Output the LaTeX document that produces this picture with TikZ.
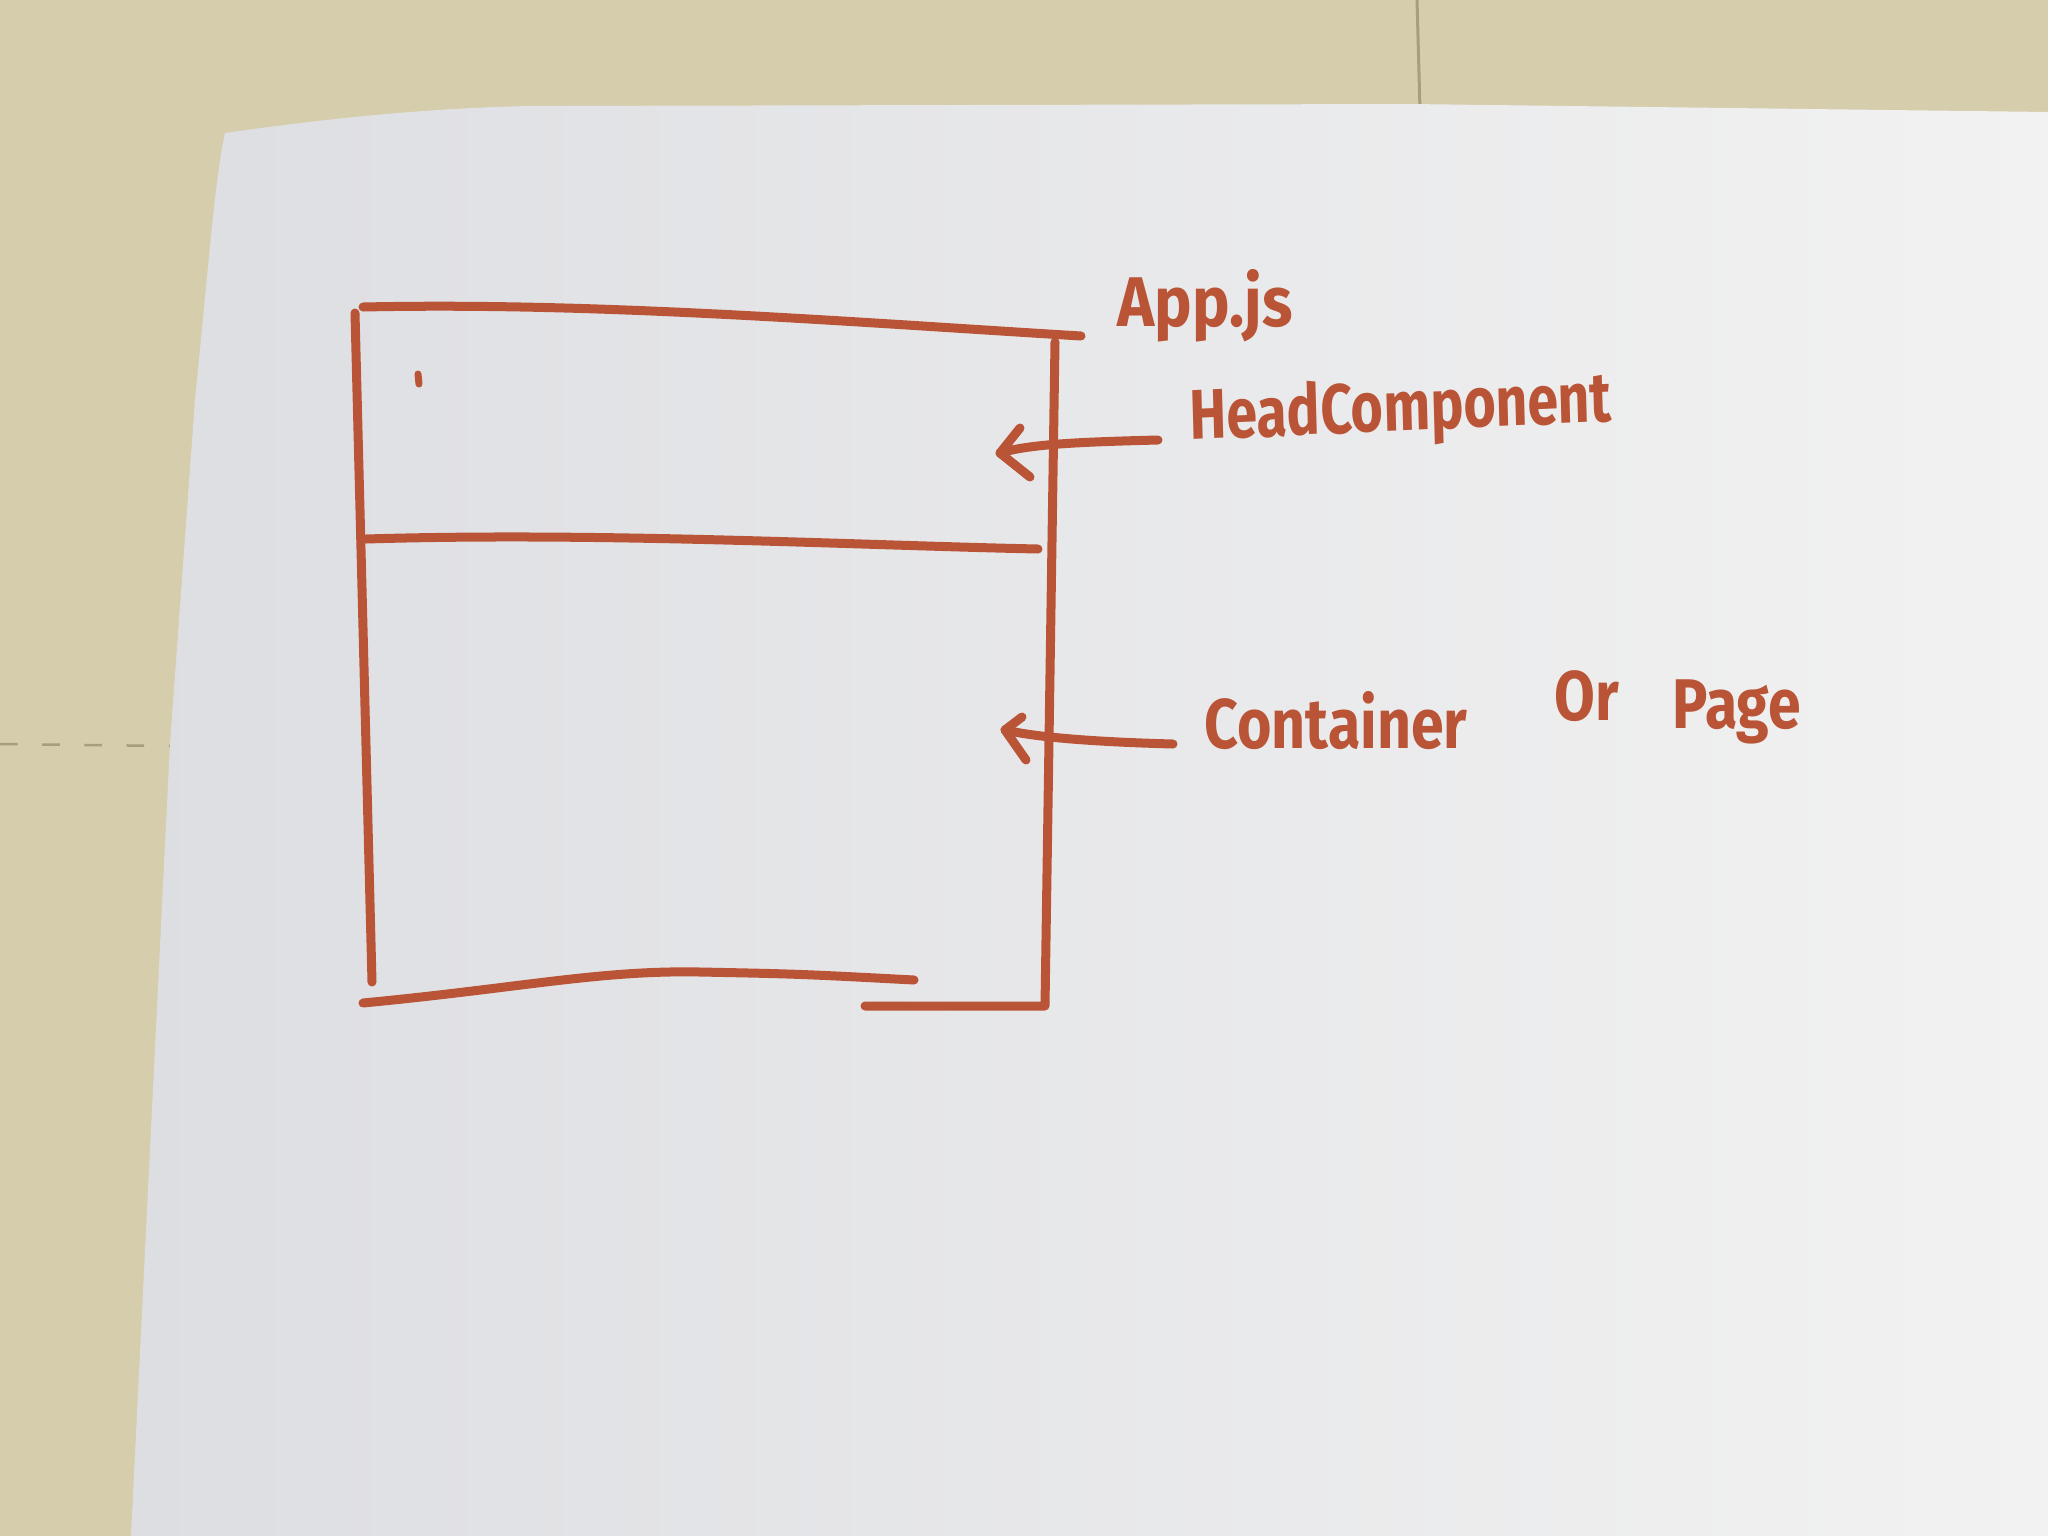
\documentclass[tikz,border=0pt]{standalone}
\usepackage{fontspec}
\setmainfont{Fira Sans}
\definecolor{marker}{RGB}{186,84,54}
\definecolor{desk}{RGB}{213,205,172}
\definecolor{deskseam}{RGB}{168,158,124}
\definecolor{paperl}{RGB}{221,222,226}
\definecolor{paperr}{RGB}{242,242,242}
\tikzset{
  ink/.style={draw=marker,line width=0.09cm,line cap=round,line join=round},
  thinink/.style={draw=marker,line width=0.07cm,line cap=round,line join=round},
  scrawl/.style={text=marker,font=\bfseries\fontsize{20}{24}\selectfont,inner sep=0pt,anchor=base west,xscale=0.8}
}
\begin{document}
\begin{tikzpicture}[x=0.01cm,y=-0.01cm]
\useasboundingbox (0,0) rectangle (2048,1536);
% desk surface
\fill[desk] (0,0) rectangle (2048,1536);
\draw[deskseam,line width=0.03cm] (1417,0) -- (1420,110);
\draw[deskseam,line width=0.025cm,dash pattern=on 5pt off 7pt] (0,744) -- (172,746);
% sheet of paper
\shade[left color=paperl,right color=paperr]
  (225,133) .. controls (330,118) and (430,108) .. (530,106)
  -- (1410,104) -- (2048,112) -- (2048,1536) -- (131,1536)
  -- (170,744) -- (195,400) .. controls (210,250) and (215,180) .. cycle;

% outer frame (App.js)
\coordinate (tl) at (363,307);
\coordinate (tr) at (1081,336);
\coordinate (rt) at (1055,342);
\coordinate (rb) at (1045,1006);
\draw[ink] (tl) .. controls (600,302) and (850,322) .. (tr);
\draw[ink] (355,313) -- (372,982);
\draw[ink] (865,1006) -- (rb) -- (rt);
% divider between header and container
\draw[ink] (366,539) .. controls (600,532) and (850,545) .. (1038,549);
% bottom edge
\draw[ink] (363,1003) .. controls (520,988) and (600,970) .. (700,972) .. controls (800,974) .. (914,980);
% stray dot
\draw[thinink] (418,374) -- (419,384);

% labels
\node[scrawl,xscale=1.12] (app) at (1117,326) {App.js};
\node[scrawl,xscale=0.985,rotate=2] (head) at (1190,440) {HeadComponent};
\node[scrawl,xscale=1.05] (cont) at (1204,748) {Container};
\node[scrawl,xscale=1.05] (or) at (1554,720) {Or};
\node[scrawl,xscale=1.05] (page) at (1672,728) {Page};

% arrows from labels to the regions
\coordinate (ht) at (1158,440);
\coordinate (hh) at (1000,453);
\draw[ink] (ht) .. controls (1080,442) and (1030,444) .. (hh);
\draw[ink] (1020,428) -- (hh) -- (1030,477);
\coordinate (ct) at (1173,744);
\coordinate (ch) at (1005,730);
\draw[ink] (ct) .. controls (1100,742) and (1040,738) .. (ch);
\draw[ink] (1022,717) -- (ch) -- (1026,760);
\end{tikzpicture}
\end{document}
